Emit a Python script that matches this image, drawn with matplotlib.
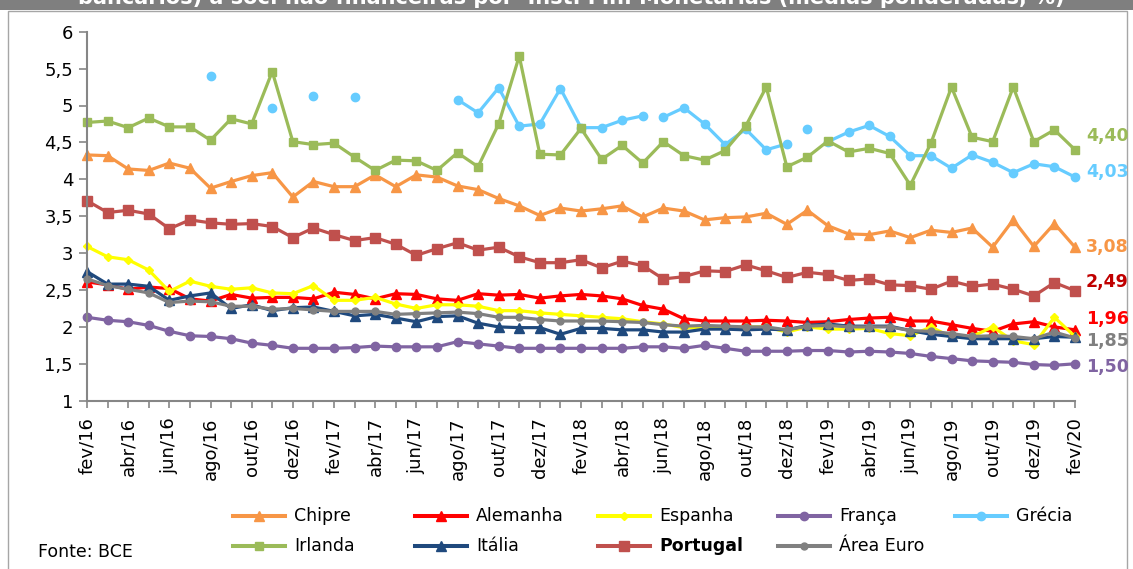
import numpy as np
import matplotlib
matplotlib.use("Agg")
import matplotlib.pyplot as plt
from matplotlib.lines import Line2D
from matplotlib.patches import Rectangle

# ---------------------------------------------------------------- data
MESES = [
    "fev/16", "mar/16", "abr/16", "mai/16", "jun/16", "jul/16", "ago/16", "set/16",
    "out/16", "nov/16", "dez/16", "jan/17", "fev/17", "mar/17", "abr/17", "mai/17",
    "jun/17", "jul/17", "ago/17", "set/17", "out/17", "nov/17", "dez/17", "jan/18",
    "fev/18", "mar/18", "abr/18", "mai/18", "jun/18", "jul/18", "ago/18", "set/18",
    "out/18", "nov/18", "dez/18", "jan/19", "fev/19", "mar/19", "abr/19", "mai/19",
    "jun/19", "jul/19", "ago/19", "set/19", "out/19", "nov/19", "dez/19", "jan/20",
    "fev/20",
]

CHIPRE = [4.33, 4.32, 4.14, 4.12, 4.22, 4.15, 3.88, 3.97, 4.05, 4.09, 3.76, 3.97, 3.90,
          3.90, 4.06, 3.90, 4.06, 4.03, 3.91, 3.86, 3.74, 3.64, 3.51, 3.61, 3.57, 3.60,
          3.64, 3.49, 3.61, 3.57, 3.45, 3.48, 3.49, 3.54, 3.39, 3.58, 3.37, 3.26, 3.25,
          3.30, 3.21, 3.31, 3.28, 3.34, 3.08, 3.45, 3.09, 3.40, 3.08]

ALEMANHA = [2.61, 2.57, 2.51, 2.54, 2.52, 2.38, 2.35, 2.44, 2.39, 2.40, 2.40, 2.38, 2.47,
            2.44, 2.38, 2.45, 2.44, 2.38, 2.36, 2.45, 2.43, 2.44, 2.39, 2.42, 2.44, 2.42,
            2.38, 2.29, 2.24, 2.11, 2.08, 2.08, 2.08, 2.09, 2.08, 2.06, 2.07, 2.10, 2.12,
            2.13, 2.08, 2.08, 2.03, 1.98, 1.94, 2.04, 2.07, 2.00, 1.96]

ESPANHA = [3.09, 2.95, 2.91, 2.77, 2.48, 2.62, 2.55, 2.51, 2.53, 2.46, 2.45, 2.56, 2.36,
           2.36, 2.40, 2.31, 2.25, 2.30, 2.30, 2.28, 2.22, 2.22, 2.19, 2.17, 2.15, 2.13,
           2.11, 2.07, 2.04, 1.99, 1.99, 1.99, 2.00, 2.00, 1.93, 2.00, 1.97, 1.97, 1.98,
           1.91, 1.88, 2.00, 1.86, 1.87, 2.00, 1.81, 1.76, 2.13, 1.87]

FRANCA = [2.13, 2.09, 2.07, 2.02, 1.94, 1.88, 1.87, 1.84, 1.78, 1.75, 1.71, 1.71, 1.71,
          1.72, 1.74, 1.73, 1.73, 1.73, 1.80, 1.77, 1.74, 1.71, 1.71, 1.71, 1.71, 1.71,
          1.71, 1.73, 1.73, 1.71, 1.75, 1.71, 1.67, 1.67, 1.67, 1.68, 1.68, 1.66, 1.67,
          1.66, 1.64, 1.60, 1.57, 1.54, 1.53, 1.52, 1.49, 1.48, 1.50]

GRECIA = [None, None, None, None, None, None, 5.40, None, None, 4.97, None, 5.13, None,
          5.11, None, None, None, None, 5.08, 4.90, 5.24, 4.72, 4.75, 5.23, 4.70, 4.70,
          4.80, 4.86, 4.84, 4.97, 4.75, 4.47, 4.68, 4.40, 4.48, 4.68, 4.51, 4.64, 4.73,
          4.58, 4.32, 4.32, 4.15, 4.33, 4.23, 4.09, 4.21, 4.17, 4.03]
# months after which the Greek series is not joined to the next one
GRECIA_QUEBRAS = [27, 34, 35]

IRLANDA = [4.77, 4.79, 4.70, 4.83, 4.71, 4.71, 4.53, 4.82, 4.75, 5.46, 4.51, 4.47, 4.49,
           4.30, 4.12, 4.26, 4.25, 4.12, 4.36, 4.17, 4.75, 5.67, 4.34, 4.33, 4.69, 4.27,
           4.46, 4.22, 4.51, 4.32, 4.26, 4.39, 4.72, 5.25, 4.17, 4.30, 4.52, 4.37, 4.42,
           4.35, 3.92, 4.49, 5.25, 4.57, 4.51, 5.25, 4.51, 4.67, 4.40]

ITALIA = [2.75, 2.58, 2.58, 2.55, 2.36, 2.42, 2.46, 2.25, 2.30, 2.22, 2.26, 2.27, 2.21,
          2.15, 2.17, 2.12, 2.07, 2.14, 2.15, 2.05, 2.00, 1.99, 1.99, 1.90, 1.98, 1.98,
          1.96, 1.96, 1.93, 1.93, 1.97, 1.97, 1.96, 1.97, 1.96, 2.02, 2.04, 2.01, 2.01,
          2.01, 1.95, 1.90, 1.87, 1.84, 1.84, 1.84, 1.84, 1.87, 1.86]

PORTUGAL = [3.71, 3.55, 3.58, 3.53, 3.33, 3.45, 3.41, 3.39, 3.40, 3.36, 3.21, 3.34, 3.25,
            3.17, 3.21, 3.12, 2.97, 3.06, 3.14, 3.04, 3.08, 2.95, 2.87, 2.87, 2.91, 2.80,
            2.89, 2.83, 2.65, 2.68, 2.76, 2.75, 2.84, 2.76, 2.67, 2.74, 2.71, 2.63, 2.65,
            2.57, 2.56, 2.51, 2.62, 2.55, 2.58, 2.51, 2.42, 2.60, 2.49]

AREA_EURO = [2.65, 2.56, 2.51, 2.46, 2.33, 2.35, 2.34, 2.28, 2.28, 2.24, 2.25, 2.23, 2.21,
             2.21, 2.21, 2.17, 2.18, 2.19, 2.20, 2.18, 2.13, 2.13, 2.10, 2.08, 2.08, 2.08,
             2.07, 2.06, 2.03, 2.01, 2.02, 2.01, 2.00, 2.00, 1.96, 2.01, 2.02, 2.00, 2.00,
             2.00, 1.95, 1.94, 1.91, 1.87, 1.88, 1.87, 1.84, 1.93, 1.85]

TITULO = ("bancários) a soc. não financeiras por  Inst. Fin. Monetárias "
          "(médias ponderadas, %)")
FONTE = "Fonte: BCE"

# ---------------------------------------------------------------- styles
SERIES = {
    "Chipre":    dict(data=CHIPRE,    color="#F79646", marker="^", ms=6.5),
    "Alemanha":  dict(data=ALEMANHA,  color="#FF0000", marker="^", ms=6.5),
    "Espanha":   dict(data=ESPANHA,   color="#FFFF00", marker="D", ms=4.0),
    "França":    dict(data=FRANCA,    color="#8064A2", marker="o", ms=6.0),
    "Grécia":    dict(data=GRECIA,    color="#66CCFF", marker="o", ms=6.0),
    "Irlanda":   dict(data=IRLANDA,   color="#9BBB59", marker="s", ms=6.0),
    "Itália":    dict(data=ITALIA,    color="#1F497D", marker="^", ms=6.5),
    "Portugal":  dict(data=PORTUGAL,  color="#C0504D", marker="s", ms=6.5),
    "Área Euro": dict(data=AREA_EURO, color="#808080", marker="o", ms=5.0),
}
# end-of-line value labels: colour and vertical offset (points)
ROTULOS_FINAIS = {
    "Irlanda":   ("#9BBB59", 10),
    "Grécia":    ("#66CCFF", 3.5),
    "Chipre":    ("#F79646", 0),
    "Portugal":  ("#C00000", 6),
    "Alemanha":  ("#FF0000", 8),
    "Área Euro": ("#808080", -2),
    "França":    ("#8064A2", -2),
}

W, H = 1133, 569
LW = 2.3
FS = 12.5
AXIS_GREY = "#868686"

plt.rcParams["font.family"] = ["DejaVu Sans"]

fig = plt.figure(figsize=(W / 100, H / 100), dpi=100)


def fx(px):
    return px / W


def fy(py):
    return 1 - py / H


# header strip (bottom of the title box) and outer frame
fig.add_artist(Rectangle((0, fy(9.5)), 1, 9.5 / H, transform=fig.transFigure,
                         facecolor="#7F7F7F", edgecolor="none", zorder=0))
fig.add_artist(Rectangle((fx(8), fy(620)), fx(1127) - fx(8), (620 - 10.5) / H,
                         transform=fig.transFigure, fill=False,
                         edgecolor="#A6A6A6", linewidth=1.0, zorder=0))
fig.text(fx(571), fy(3.5), TITULO, color="white", fontsize=15, fontweight="bold",
         ha="center", va="baseline")

ax = fig.add_axes([fx(87), fy(400.7), fx(1075) - fx(87), (400.7 - 31.7) / H])
x = np.arange(len(MESES))

for nome, st in SERIES.items():
    y = np.array([np.nan if v is None else v for v in st["data"]], dtype=float)
    kw = dict(color=st["color"], marker=st["marker"], markersize=st["ms"],
              markeredgecolor=st["color"], linewidth=LW, clip_on=False,
              solid_joinstyle="round")
    if nome == "Grécia":
        cortes = [0] + [q + 1 for q in GRECIA_QUEBRAS] + [len(y)]
        for a, b in zip(cortes[:-1], cortes[1:]):
            ax.plot(x[a:b], y[a:b], **kw)
    else:
        ax.plot(x, y, **kw)

for nome, (cor, dy) in ROTULOS_FINAIS.items():
    v = SERIES[nome]["data"][-1]
    ax.annotate(f"{v:.2f}".replace(".", ","), xy=(x[-1], v), xytext=(8, dy),
                textcoords="offset points", color=cor, fontsize=FS,
                fontweight="bold", ha="left", va="center", annotation_clip=False)

ax.set_xlim(0, len(MESES) - 1)
ax.set_ylim(1, 6)
yt = np.arange(1, 6.01, 0.5)
ax.set_yticks(yt)
ax.set_yticklabels([f"{t:g}".replace(".", ",") for t in yt], fontsize=FS + 0.5)
ax.set_xticks(x)
ax.set_xticklabels([m if i % 2 == 0 else "" for i, m in enumerate(MESES)],
                   rotation=90, fontsize=FS + 0.5)
ax.tick_params(axis="both", colors=AXIS_GREY, labelcolor="black", width=1.2)
ax.tick_params(axis="y", length=6, pad=4)
ax.tick_params(axis="x", length=5, pad=7)
for s in ("top", "right"):
    ax.spines[s].set_visible(False)
for s in ("left", "bottom"):
    ax.spines[s].set_color(AXIS_GREY)
    ax.spines[s].set_linewidth(1.5)
ax.patch.set_alpha(0)

# legend drawn in two rows, evenly spaced columns
ORDEM_LEGENDA = [["Chipre", "Alemanha", "Espanha", "França", "Grécia"],
                 ["Irlanda", "Itália", "Portugal", "Área Euro"]]
COL_X = [233, 415, 598, 778, 955]
ROW_Y = [516, 546]
for r, linha in enumerate(ORDEM_LEGENDA):
    for c, nome in enumerate(linha):
        st = SERIES[nome]
        x0 = COL_X[c]
        yy = fy(ROW_Y[r])
        fig.add_artist(Line2D([fx(x0), fx(x0 + 52)], [yy, yy], transform=fig.transFigure,
                              color=st["color"], linewidth=LW + 0.6))
        fig.add_artist(Line2D([fx(x0 + 26)], [yy], transform=fig.transFigure,
                              color=st["color"], marker=st["marker"],
                              markersize=st["ms"], markeredgecolor=st["color"]))
        fig.text(fx(x0 + 61), yy, nome, fontsize=FS, va="center", ha="left",
                 fontweight="bold" if nome == "Portugal" else "normal")

fig.text(fx(38), fy(552), FONTE, fontsize=FS, va="center", ha="left")

fig.savefig("out.png", dpi=100)
